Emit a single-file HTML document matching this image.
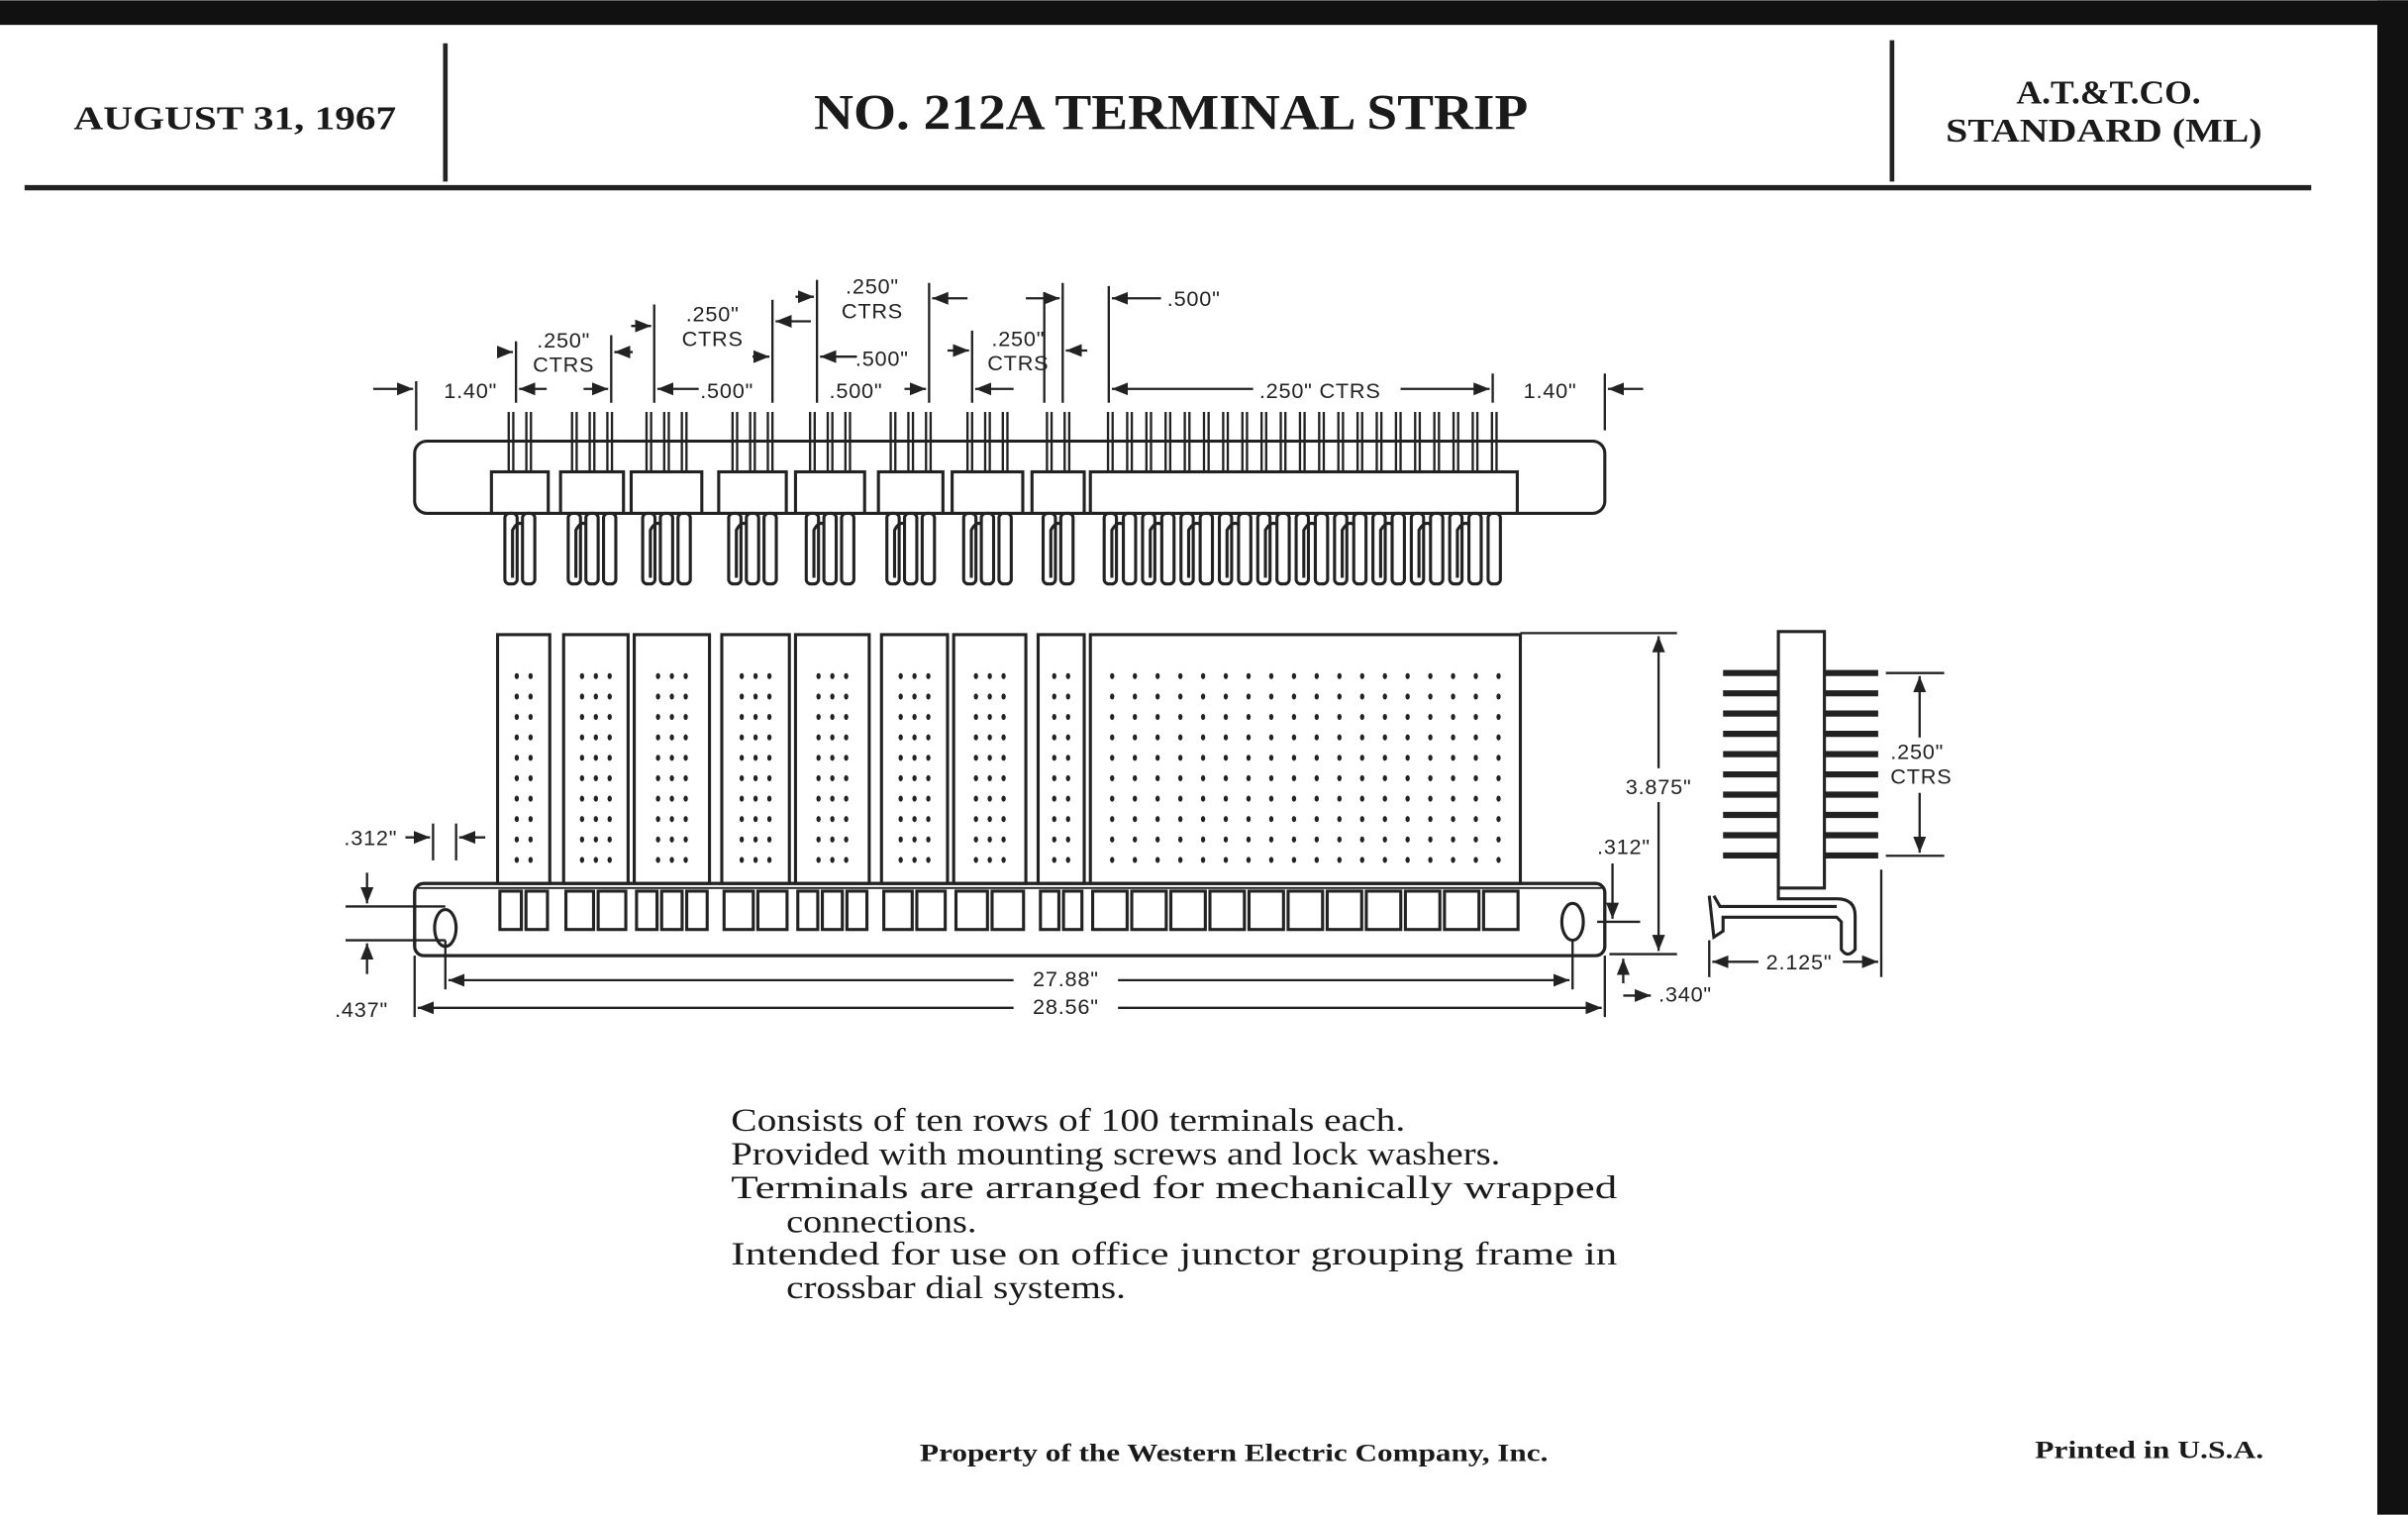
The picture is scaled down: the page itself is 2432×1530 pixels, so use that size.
<!DOCTYPE html>
<html><head><meta charset="utf-8">
<style>
html,body{margin:0;padding:0;background:#fff;}
svg{display:block;}
.s{font-family:"Liberation Serif",serif;font-weight:bold;fill:#1a1a1a;}
.d{font-family:"Liberation Sans",sans-serif;font-size:14px;fill:#222;letter-spacing:0.5px;}
.b{font-family:"Liberation Serif",serif;font-size:21px;fill:#1a1a1a;}
</style></head>
<body>
<svg id="sv" width="2432" height="1530" viewBox="0 0 1568 986" xmlns="http://www.w3.org/2000/svg">
<defs>
<marker id="ar" viewBox="0 0 10 10" refX="10" refY="5" markerWidth="7" markerHeight="7" orient="auto-start-reverse"><path d="M0,1 L10,5 L0,9 z" fill="#222"/></marker>
</defs>
<rect x="0" y="0" width="1568" height="986" fill="#fff"/>
<rect x="0" y="0" width="1568" height="16" fill="#111"/>
<rect x="1548" y="0" width="20" height="986" fill="#111"/>
<text class="s" x="48" y="84" font-size="22" textLength="210" lengthAdjust="spacingAndGlyphs">AUGUST 31, 1967</text>
<line x1="290" y1="28" x2="290" y2="118" stroke="#222" stroke-width="3"/>
<text class="s" x="530" y="84" font-size="33" textLength="465" lengthAdjust="spacingAndGlyphs">NO. 212A TERMINAL STRIP</text>
<line x1="1232" y1="26" x2="1232" y2="118" stroke="#222" stroke-width="3"/>
<text class="s" x="1313" y="67" font-size="22" textLength="120" lengthAdjust="spacingAndGlyphs">A.T.&amp;T.CO.</text>
<text class="s" x="1267" y="92" font-size="22" textLength="206" lengthAdjust="spacingAndGlyphs">STANDARD (ML)</text>
<line x1="16" y1="122" x2="1505" y2="122" stroke="#222" stroke-width="3.5"/>

<g id="draw" stroke="#222" fill="none" stroke-width="2"></g>

<g class="d">
<text x="289" y="259">1.40"</text>
<text x="367" y="226" text-anchor="middle">.250"</text>
<text x="367" y="242" text-anchor="middle">CTRS</text>
<text x="464" y="209" text-anchor="middle">.250"</text>
<text x="464" y="225" text-anchor="middle">CTRS</text>
<text x="456" y="259">.500"</text>
<text x="568" y="191" text-anchor="middle">.250"</text>
<text x="568" y="207" text-anchor="middle">CTRS</text>
<text x="557" y="238">.500"</text>
<text x="540" y="259">.500"</text>
<text x="663" y="225" text-anchor="middle">.250"</text>
<text x="663" y="241" text-anchor="middle">CTRS</text>
<text x="760" y="199">.500"</text>
<text x="820" y="259">.250" CTRS</text>
<text x="992" y="259">1.40"</text>
<text x="1080" y="517" text-anchor="middle">3.875"</text>
<text x="1040" y="556">.312"</text>
<text x="1080" y="652">.340"</text>
<text x="224" y="550">.312"</text>
<text x="218" y="662">.437"</text>
<text x="694" y="642" text-anchor="middle">27.88"</text>
<text x="694" y="660" text-anchor="middle">28.56"</text>
<text x="1231" y="494">.250"</text>
<text x="1231" y="510">CTRS</text>
<text x="1150" y="631">2.125"</text>
</g>

<text class="b" x="476" y="736" textLength="439" lengthAdjust="spacingAndGlyphs">Consists of ten rows of 100 terminals each.</text>
<text class="b" x="476" y="758" textLength="501" lengthAdjust="spacingAndGlyphs">Provided with mounting screws and lock washers.</text>
<text class="b" x="476" y="780" textLength="577" lengthAdjust="spacingAndGlyphs">Terminals are arranged for mechanically wrapped</text>
<text class="b" x="512" y="802" textLength="124" lengthAdjust="spacingAndGlyphs">connections.</text>
<text class="b" x="476" y="823" textLength="577" lengthAdjust="spacingAndGlyphs">Intended for use on office junctor grouping frame in</text>
<text class="b" x="512" y="845" textLength="221" lengthAdjust="spacingAndGlyphs">crossbar dial systems.</text>

<text class="s" x="599" y="951" font-size="16" textLength="409" lengthAdjust="spacingAndGlyphs">Property of the Western Electric Company, Inc.</text>
<text class="s" x="1325" y="949" font-size="16" textLength="149" lengthAdjust="spacingAndGlyphs">Printed in U.S.A.</text>
</svg>
<script>
(function(){
var g=document.getElementById('draw'),NS='http://www.w3.org/2000/svg';
function el(t,a,p){var e=document.createElementNS(NS,t);for(var k in a)e.setAttribute(k,a[k]);(p||g).appendChild(e);return e;}
function L(x1,y1,x2,y2,w,m1,m2){var e=el('line',{x1:x1,y1:y1,x2:x2,y2:y2});if(w)e.setAttribute('stroke-width',w);if(m1)e.setAttribute('marker-start','url(#ar)');if(m2)e.setAttribute('marker-end','url(#ar)');return e;}
function R(x,y,w,h,rx,f){return el('rect',{x:x,y:y,width:w,height:h,rx:rx||0,fill:f||'none'});}
R(270,287,775,47,8,'#fff');
var mods=[[320,357,2],[365,406,3],[411,457,3],[468,512,3],[518,563,3],[572,614,3],[620,666,3],[672,706,2],[710,988,21]];
mods.forEach(function(m){
  var x0=m[0],x1=m[1],n=m[2],w=x1-x0;
  R(x0,307,w,27,0,'#fff');
  var sp = n==21?12.5:11.5;
  var start=(x0+x1)/2-sp*(n-1)/2;
  if(n==21)start=723;
  for(var i=0;i<n;i++){
    var x=start+i*sp;
    L(x-1.5,268,x-1.5,307,1.5);L(x+1.5,268,x+1.5,307,1.5);
    R(x-4,334,8,46,3,'#fff');
    if(i%2==0 && i<n-1){el('path',{d:'M'+(x+1)+',376 L'+(x+1)+',345 Q'+(x+sp/2)+',336 '+(x+sp-1)+',345 L'+(x+sp-1)+',376'});}
  }
});
var pans=[[324,358,2],[367,409,3],[413,462,3],[470,514,3],[518,566,3],[574,617,3],[621,668,3],[676,706,2],[710,990,18]];
R(270,575,775,47,6,'#fff');
pans.forEach(function(p){
  var x0=p[0],x1=p[1],n=p[2];
  R(x0,413,x1-x0,162,0,'#fff');
  var sp=n==18?14.8:9;
  var st=(x0+x1)/2-sp*(n-1)/2;
  for(var r=0;r<10;r++)for(var c=0;c<n;c++)el('ellipse',{cx:st+c*sp,cy:440+r*13.3,rx:1.4,ry:2,fill:'#222',stroke:'none'});
  var w=x1-x0, k=Math.max(1,Math.round(w/19)); if(n==18)k=11;
  var sw=w/k;
  for(var i=0;i<k;i++)R(x0+i*sw+1.5,580,sw-3,25,0,'#fff');
});
el('rect',{x:270,y:575,width:775,height:47,rx:6,fill:'none'});
L(272,578,1043,578,1.2);
el('ellipse',{cx:290,cy:604,rx:7,ry:12,fill:'#fff'});
el('ellipse',{cx:1024,cy:600,rx:7,ry:12,fill:'#fff'});
L(990,412,1092,412,1.5);L(1048,621,1092,621,1.5);
L(1080,500,1080,414,1.5,0,1);L(1080,522,1080,619,1.5,0,1);
L(1050,562,1050,598,1.5,0,1);L(1040,600,1068,600,1.5);
L(1057,640,1057,624,1.5,0,1);L(1057,648,1075,648,1.5,0,1);
L(270,622,270,662,1.5);L(290,612,290,644,1.5);L(1024,612,1024,644,1.5);L(1045,622,1045,662,1.5);
L(660,638,292,638,1.5,0,1);L(728,638,1022,638,1.5,0,1);
L(660,656,272,656,1.5,0,1);L(728,656,1043,656,1.5,0,1);
L(282,536,282,560,1.5);L(297,536,297,560,1.5);
L(264,545,280,545,1.5,0,1);L(316,545,299,545,1.5,0,1);
L(225,590,290,590,1.5);L(225,612,290,612,1.5);
L(239,568,239,588,1.5,0,1);L(239,634,239,614,1.5,0,1);
function vx(x,y1,y2){L(x,y1,x,y2,1.5);}
vx(271,248,280);vx(336,222,262);vx(398,218,262);vx(426,198,262);vx(503,195,262);vx(532,182,262);vx(605,184,262);vx(633,215,262);vx(680,190,262);vx(692,184,262);vx(722,186,262);vx(1045,243,280);
L(243,253,269,253,1.5,0,1);L(356,253,338,253,1.5,0,1);L(380,253,396,253,1.5,0,1);
L(324,229,334,229,1.5,0,1);L(412,229,400,229,1.5,0,1);
L(411,212,424,212,1.5,0,1);L(490,232,501,232,1.5,0,1);
L(455,253,428,253,1.5,0,1);L(528,209,505,209,1.5,0,1);
L(518,193,530,193,1.5,0,1);L(630,194,607,194,1.5,0,1);
L(558,232,534,232,1.5,0,1);L(589,253,603,253,1.5,0,1);
L(617,228,631,228,1.5,0,1);L(660,253,635,253,1.5,0,1);L(708,228,694,228,1.5,0,1);
L(668,194,690,194,1.5,0,1);L(756,194,724,194,1.5,0,1);
L(816,253,724,253,1.5,0,1);L(912,253,970,253,1.5,0,1);L(1070,253,1047,253,1.5,0,1);
vx(972,243,262);
for(var i=0;i<10;i++){var y=438+i*13.2;L(1122,y,1158,y,4);L(1188,y,1223,y,4);}
R(1158,411,30,167,0,'#fff');
el('path',{d:'M1113,583 L1116,610 L1122,606 L1122,597 L1196,597 L1199,600 L1199,618 Q1203,624 1208,618 L1208,596 Q1208,585 1196,585 L1158,585 L1158,578 M1116,583 L1120,590 L1196,590'});
L(1228,438,1266,438,1.5);L(1228,557,1266,557,1.5);
L(1250,480,1250,440,1.5,0,1);L(1250,516,1250,555,1.5,0,1);
L(1113,612,1113,636,1.5);L(1225,566,1225,636,1.5);
L(1145,626,1115,626,1.5,0,1);L(1200,626,1223,626,1.5,0,1);
})();
</script>
</body></html>
